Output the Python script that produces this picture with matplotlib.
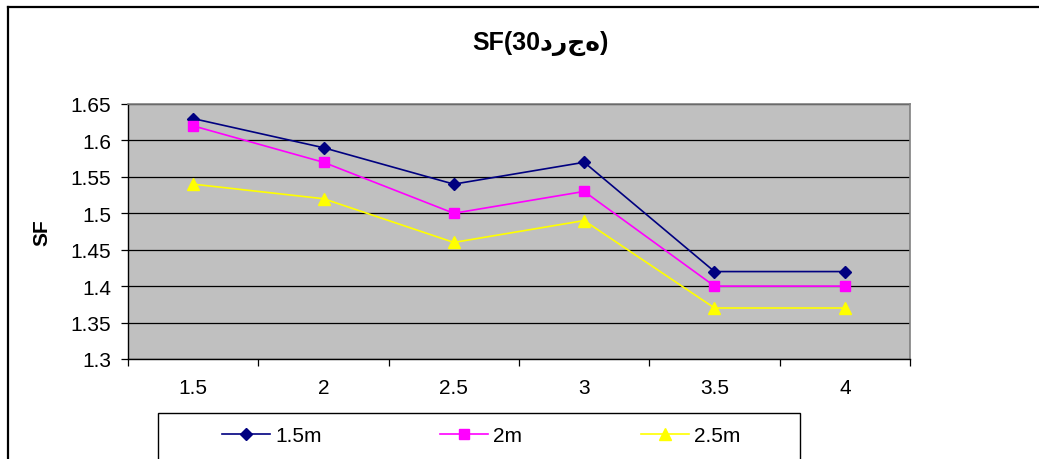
import matplotlib
matplotlib.use('Agg')
import matplotlib.pyplot as plt
from matplotlib.lines import Line2D
from matplotlib.patches import Rectangle
import numpy as np

plt.rcParams['font.family'] = ['Liberation Sans', 'DejaVu Sans']

spacing = ['1.5', '2', '2.5', '3', '3.5', '4']
sf_15 = [1.63, 1.59, 1.54, 1.57, 1.42, 1.42]
sf_20 = [1.62, 1.57, 1.50, 1.53, 1.40, 1.40]
sf_25 = [1.54, 1.52, 1.46, 1.49, 1.37, 1.37]
labels = ['1.5m', '2m', '2.5m']

W, H = 1039, 460
fig = plt.figure(figsize=(W / 100, H / 100), dpi=100)
ax = fig.add_axes([128 / W, 1 - 360 / H, (910 - 128) / W, (360 - 105) / H])
ax.set_facecolor('#C0C0C0')

x = np.arange(len(spacing))
ax.plot(x, sf_15, color='#000080', marker='D', markersize=6.5, lw=1.2, label=labels[0])
ax.plot(x, sf_20, color='#FF00FF', marker='s', markersize=6.5, lw=1.2, label=labels[1])
ax.plot(x, sf_25, color='#FFFF00', marker='^', markersize=8, lw=1.2, label=labels[2])

ax.set_xlim(-0.5, len(spacing) - 0.5)
ax.set_ylim(1.3, 1.65)
ax.set_yticks(np.arange(1.3, 1.651, 0.05))
ax.set_yticklabels(['1.3', '1.35', '1.4', '1.45', '1.5', '1.55', '1.6', '1.65'])
ax.yaxis.grid(True, color='black', lw=0.9)
ax.set_axisbelow(True)

ax.set_xticks(x)
ax.set_xticklabels(spacing)
ax.set_xticks(np.arange(-0.5, len(spacing)), minor=True)
ax.tick_params(axis='x', which='major', length=0, pad=14, labelsize=15)
ax.tick_params(axis='x', which='minor', length=5, width=0.9, direction='out')
ax.tick_params(axis='y', length=5, width=0.9, direction='out', pad=7, labelsize=15)

for side in ['top', 'right']:
    ax.spines[side].set_color('#808080')
    ax.spines[side].set_linewidth(1.2)
for side in ['left', 'bottom']:
    ax.spines[side].set_color('black')
    ax.spines[side].set_linewidth(1.0)

ax.set_ylabel('SF', fontsize=15, fontweight='bold', labelpad=14)

fig.text(540 / W, 1 - 43 / H, 'SF(30درجه)', ha='center', va='center',
         fontsize=18, fontweight='bold')

# legend frame runs off the bottom of the figure
fig.patches.append(Rectangle((158 / W, -0.1), (800 - 158) / W, 0.1 + (460 - 414) / H,
                             transform=fig.transFigure, fill=False,
                             edgecolor='black', lw=1.0))
fig.legend(loc='center left', bbox_to_anchor=(222 / W, 1 - 437 / H), ncol=3,
           frameon=False, fontsize=15, handlelength=2.3, handletextpad=0.25,
           columnspacing=5.7, borderpad=0, borderaxespad=0)

# outer chart border
fig.lines.append(Line2D([8 / W, 1], [1 - 8 / H, 1 - 8 / H], transform=fig.transFigure,
                        color='black', lw=1.6))
fig.lines.append(Line2D([8 / W, 8 / W], [0, 1 - 8 / H], transform=fig.transFigure,
                        color='black', lw=1.6))

fig.savefig('out.png', dpi=100)
